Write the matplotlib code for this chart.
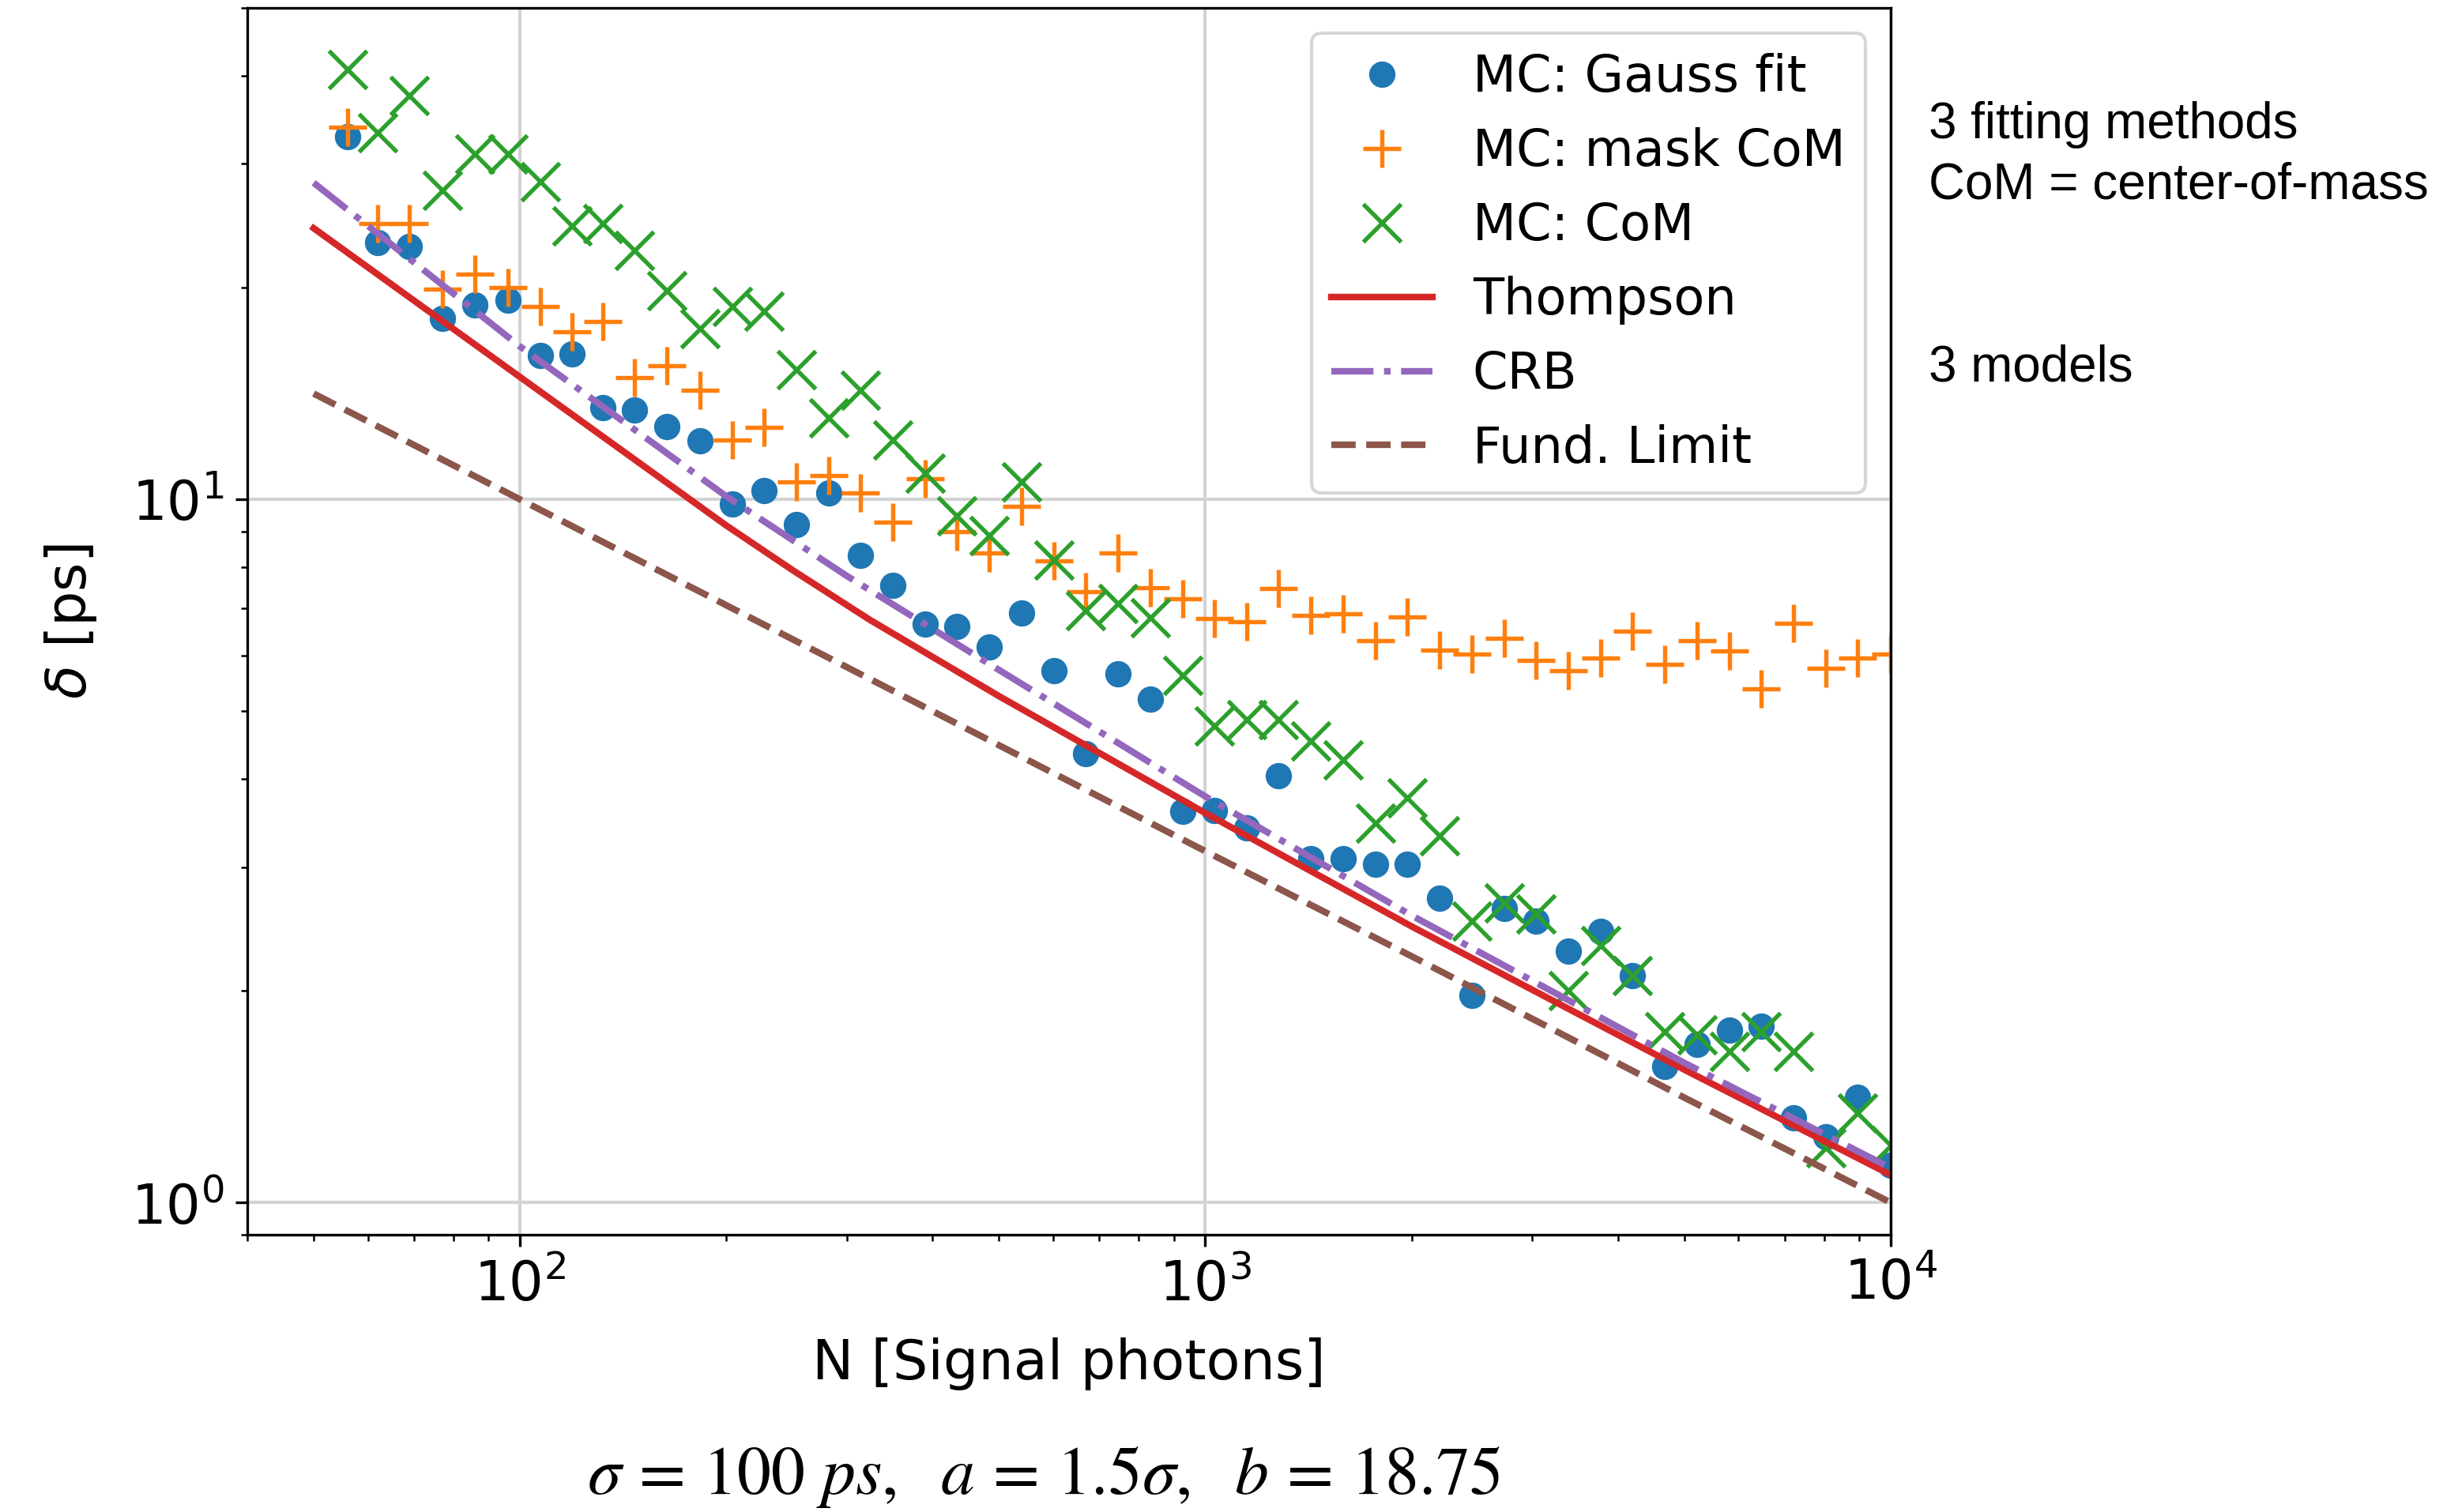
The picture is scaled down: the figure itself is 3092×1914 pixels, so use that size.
import numpy as np
import matplotlib.pyplot as plt

# photon counts of the Monte-Carlo runs
n_mc = [56, 62, 69, 77, 86, 96, 107, 119, 132, 147, 164, 183, 204, 227, 253,
        282, 314, 350, 390, 434, 484, 539, 601, 669, 746, 831, 926, 1031, 1149,
        1280, 1426, 1589, 1770, 1972, 2198, 2448, 2728, 3039, 3386, 3773, 4204,
        4683, 5218, 5814, 6477, 7216, 8040, 8958, 10000]

gauss_fit = [32.8, 23.2, 22.9, 18.1, 18.9, 19.2, 16.0, 16.1, 13.5, 13.4, 12.7,
             12.1, 9.86, 10.3, 9.2, 10.2, 8.32, 7.54, 6.65, 6.6, 6.17, 6.89, 5.71,
             4.35, 5.65, 5.2, 3.6, 3.61, 3.41, 4.04, 3.08, 3.08, 3.03, 3.03, 2.71,
             1.97, 2.62, 2.51, 2.28, 2.43, 2.10, 1.56, 1.68, 1.76, 1.78, 1.32,
             1.24, 1.41, 1.13]

mask_com = [33.8, 24.7, 24.7, 19.9, 20.9, 20.0, 18.8, 17.3, 17.9, 14.9, 15.5,
            14.3, 12.15, 12.65, 10.6, 10.8, 10.2, 9.28, 10.7, 9.0, 8.4, 9.78,
            8.17, 7.4, 8.4, 7.48, 7.22, 6.77, 6.7, 7.47, 6.84, 6.87, 6.3, 6.8,
            6.1, 6.02, 6.35, 5.9, 5.7, 5.95, 6.5, 5.82, 6.3, 6.08, 5.37, 6.66,
            5.75, 5.95, 6.02]

com = [40.9, 33.2, 37.5, 27.5, 31.0, 31.0, 28.3, 24.5, 24.7, 22.6, 19.8, 17.5,
       18.8, 18.5, 15.3, 13.05, 14.3, 12.15, 10.9, 9.47, 8.87, 10.6, 8.2, 6.94,
       7.11, 6.79, 5.62, 4.76, 4.86, 4.86, 4.53, 4.26, 3.46, 3.76, 3.32, 2.51,
       2.67, 2.57, 2.0, 2.32, 2.10, 1.75, 1.73, 1.64, 1.75, 1.64, 1.195, 1.34,
       1.205]

# model curves
n_thompson = [50, 100, 200, 250, 324, 500, 1000, 2000, 5000, 10000]
thompson = [24.3, 14.93, 9.18, 7.93, 6.74, 5.25, 3.58, 2.47, 1.545, 1.095]

n_crb = [50, 100, 200, 300, 500, 1000, 2000, 5000, 10000]
crb = [28.2, 16.5, 10.1, 7.78, 5.72, 3.78, 2.56, 1.58, 1.12]

n_fund = [50, 100, 200, 500, 1000, 2000, 5000, 10000]
fund = [14.14, 10.0, 7.07, 4.47, 3.16, 2.24, 1.41, 1.0]

fig = plt.figure(figsize=(3092 / 300, 1914 / 300), dpi=300)
ax = fig.add_axes([0.1012, 0.1834, 0.6727, 0.8114])

ax.plot(n_mc, gauss_fit, 'o', color='C0', ms=7, label='MC: Gauss fit')
ax.plot(n_mc, mask_com, '+', color='C1', ms=11.5, mew=1.3, label='MC: mask CoM')
ax.plot(n_mc, com, 'x', color='C2', ms=11.5, mew=1.3, label='MC: CoM')
ax.plot(n_thompson, thompson, '-', color='C3', lw=2, label='Thompson')
ax.plot(n_crb, crb, '-.', color='C4', lw=2, label='CRB')
ax.plot(n_fund, fund, '--', color='C5', lw=2, label='Fund. Limit')

ax.set_xscale('log')
ax.set_yscale('log')
ax.set_xlim(40, 1e4)
ax.set_ylim(0.9, 50)
ax.grid(True, which='major', color='#d3d3d3', lw=1)
ax.tick_params(labelsize=16.5)
ax.set_xlabel('N [Signal photons]', fontsize=16.8, labelpad=8)
ax.set_ylabel(r'$\delta$ [ps]', fontsize=16.8, labelpad=10)
ax.legend(fontsize=15.3, loc='upper right')

fig.text(0.7895, 0.8975, '3 fitting methods\nCoM = center-of-mass',
         family='Liberation Sans', fontsize=15.3, va='center', ha='left',
         linespacing=1.35)
fig.text(0.7895, 0.757, '3 models', family='Liberation Sans', fontsize=15.3,
         va='center', ha='left')
fig.text(0.4272, 0.0235,
         r'$\sigma\,=\,100\ ps,\ \ a\,=\,1.5\sigma,\ \ b\,=\,18.75$',
         fontsize=20.6, ha='center', va='center', math_fontfamily='stix')

fig.savefig('out.png', dpi=300)
